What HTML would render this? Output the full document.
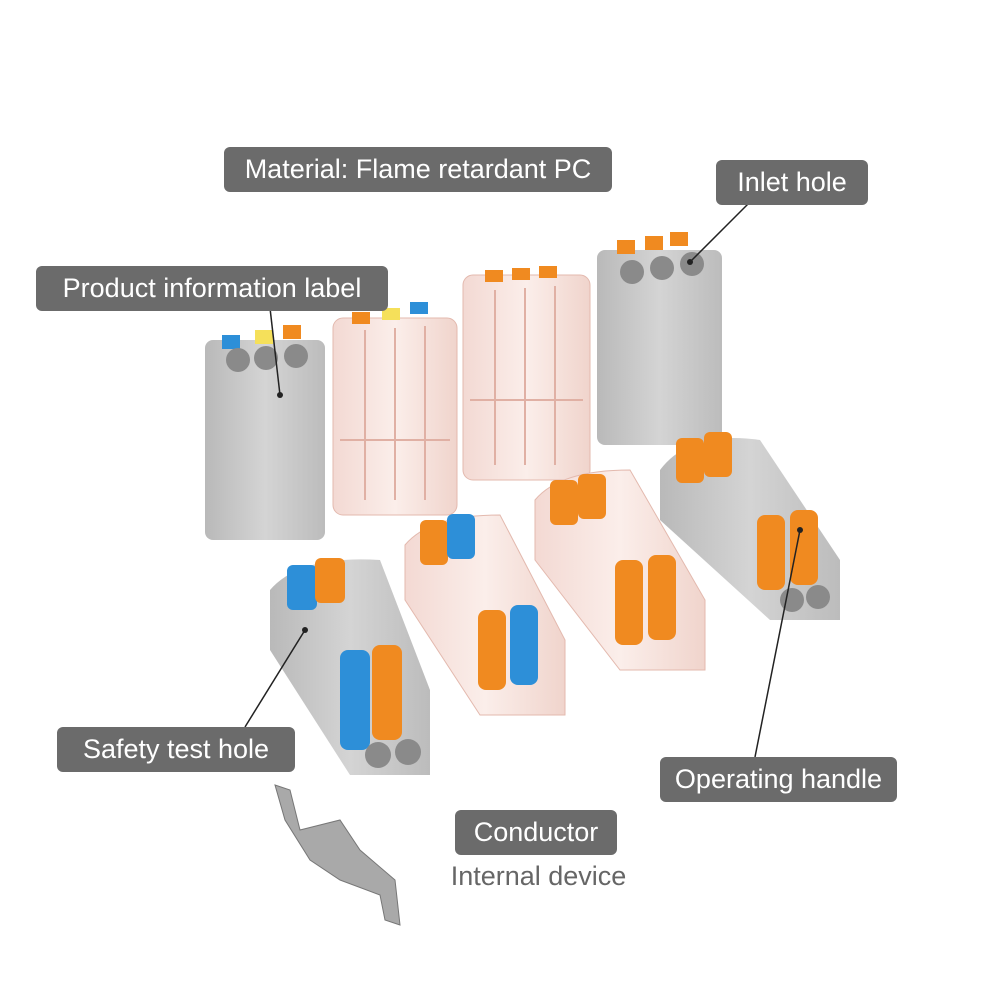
<!DOCTYPE html>
<html><head><meta charset="utf-8"><style>
html,body{margin:0;padding:0;background:#fff;}
#c{position:relative;width:1000px;height:1000px;overflow:hidden;background:#fff;font-family:"Liberation Sans",sans-serif;}
.lb{position:absolute;background:#6b6b6b;color:#fff;border-radius:6px;font-size:27px;line-height:45px;height:45px;text-align:center;white-space:nowrap;}
svg{position:absolute;left:0;top:0;}
</style></head><body><div id="c">
<svg width="1000" height="1000" viewBox="0 0 1000 1000">
<defs>
<linearGradient id="g" x1="0" x2="1"><stop offset="0" stop-color="#b9b9b9"/><stop offset=".5" stop-color="#d4d4d4"/><stop offset="1" stop-color="#bcbcbc"/></linearGradient>
<linearGradient id="cl" x1="0" x2="1"><stop offset="0" stop-color="#f3d9d3"/><stop offset=".5" stop-color="#fbeeea"/><stop offset="1" stop-color="#f0d4cc"/></linearGradient>
</defs>
<rect x="205" y="340" width="120" height="200" rx="8" fill="url(#g)"/>
<rect x="222" y="335" width="18" height="14" fill="#2d8fd8"/><rect x="255" y="330" width="18" height="14" fill="#f5e05a"/><rect x="283" y="325" width="18" height="14" fill="#f08a20"/>
<circle cx="238" cy="360" r="12" fill="#8a8a8a"/><circle cx="266" cy="358" r="12" fill="#8a8a8a"/><circle cx="296" cy="356" r="12" fill="#8a8a8a"/>
<rect x="333" y="318" width="124" height="197" rx="10" fill="url(#cl)" stroke="#e3b9ae"/>
<g stroke="#e0b0a4" stroke-width="2" fill="none"><line x1="365" y1="330" x2="365" y2="500"/><line x1="395" y1="328" x2="395" y2="500"/><line x1="425" y1="326" x2="425" y2="500"/><line x1="340" y1="440" x2="450" y2="440"/></g>
<rect x="352" y="312" width="18" height="12" fill="#f08a20"/><rect x="382" y="308" width="18" height="12" fill="#f5e05a"/><rect x="410" y="302" width="18" height="12" fill="#2d8fd8"/>
<rect x="463" y="275" width="127" height="205" rx="10" fill="url(#cl)" stroke="#e3b9ae"/>
<g stroke="#e0b0a4" stroke-width="2" fill="none"><line x1="495" y1="290" x2="495" y2="465"/><line x1="525" y1="288" x2="525" y2="465"/><line x1="555" y1="286" x2="555" y2="465"/><line x1="470" y1="400" x2="583" y2="400"/></g>
<rect x="485" y="270" width="18" height="12" fill="#f08a20"/><rect x="512" y="268" width="18" height="12" fill="#f08a20"/><rect x="539" y="266" width="18" height="12" fill="#f08a20"/>
<rect x="597" y="250" width="125" height="195" rx="8" fill="url(#g)"/>
<rect x="617" y="240" width="18" height="14" fill="#f08a20"/><rect x="645" y="236" width="18" height="14" fill="#f08a20"/><rect x="670" y="232" width="18" height="14" fill="#f08a20"/>
<circle cx="632" cy="272" r="12" fill="#8a8a8a"/><circle cx="662" cy="268" r="12" fill="#8a8a8a"/><circle cx="692" cy="264" r="12" fill="#8a8a8a"/>
<path d="M270 590 Q300 555 380 560 L430 690 L430 775 L350 775 L270 650Z" fill="url(#g)"/>
<rect x="287" y="565" width="30" height="45" rx="6" fill="#2d8fd8"/><rect x="315" y="558" width="30" height="45" rx="6" fill="#f08a20"/>
<rect x="340" y="650" width="30" height="100" rx="8" fill="#2d8fd8"/><rect x="372" y="645" width="30" height="95" rx="8" fill="#f08a20"/>
<circle cx="378" cy="755" r="13" fill="#8a8a8a"/><circle cx="408" cy="752" r="13" fill="#8a8a8a"/>
<path d="M405 545 Q430 515 500 515 L565 640 L565 715 L480 715 L405 600Z" fill="url(#cl)" stroke="#e3b9ae"/>
<rect x="420" y="520" width="28" height="45" rx="6" fill="#f08a20"/><rect x="447" y="514" width="28" height="45" rx="6" fill="#2d8fd8"/>
<rect x="478" y="610" width="28" height="80" rx="8" fill="#f08a20"/><rect x="510" y="605" width="28" height="80" rx="8" fill="#2d8fd8"/>
<path d="M535 500 Q560 470 630 470 L705 600 L705 670 L620 670 L535 560Z" fill="url(#cl)" stroke="#e3b9ae"/>
<rect x="550" y="480" width="28" height="45" rx="6" fill="#f08a20"/><rect x="578" y="474" width="28" height="45" rx="6" fill="#f08a20"/>
<rect x="615" y="560" width="28" height="85" rx="8" fill="#f08a20"/><rect x="648" y="555" width="28" height="85" rx="8" fill="#f08a20"/>
<path d="M660 470 Q690 430 760 440 L840 560 L840 620 L770 620 L660 520Z" fill="url(#g)"/>
<rect x="676" y="438" width="28" height="45" rx="6" fill="#f08a20"/><rect x="704" y="432" width="28" height="45" rx="6" fill="#f08a20"/>
<rect x="757" y="515" width="28" height="75" rx="8" fill="#f08a20"/><rect x="790" y="510" width="28" height="75" rx="8" fill="#f08a20"/>
<circle cx="792" cy="600" r="12" fill="#8a8a8a"/><circle cx="818" cy="597" r="12" fill="#8a8a8a"/>
<path d="M275 785 L290 790 L300 830 L340 820 L360 850 L395 880 L400 925 L385 920 L380 895 L340 880 L310 860 L285 820Z" fill="#a9a9a9" stroke="#777"/>
<g stroke="#222" stroke-width="1.5">
<line x1="752" y1="200" x2="690" y2="262"/>
<line x1="270" y1="308" x2="280" y2="395"/>
<line x1="245" y1="727" x2="305" y2="630"/>
<line x1="755" y1="757" x2="800" y2="530"/>
</g>
<circle cx="690" cy="262" r="3" fill="#222"/><circle cx="280" cy="395" r="3" fill="#222"/><circle cx="305" cy="630" r="3" fill="#222"/><circle cx="800" cy="530" r="3" fill="#222"/>
</svg>
<div class="lb" style="left:224px;top:147px;width:388px;">Material: Flame retardant PC</div>
<div class="lb" style="left:716px;top:160px;width:152px;">Inlet hole</div>
<div class="lb" style="left:36px;top:266px;width:352px;">Product information label</div>
<div class="lb" style="left:57px;top:727px;width:238px;">Safety test hole</div>
<div class="lb" style="left:660px;top:757px;width:237px;">Operating handle</div>
<div class="lb" style="left:455px;top:810px;width:162px;">Conductor</div>
<div style="position:absolute;left:430px;top:861px;width:217px;text-align:center;font-size:27px;color:#666;">Internal device</div>
</div></body></html>
